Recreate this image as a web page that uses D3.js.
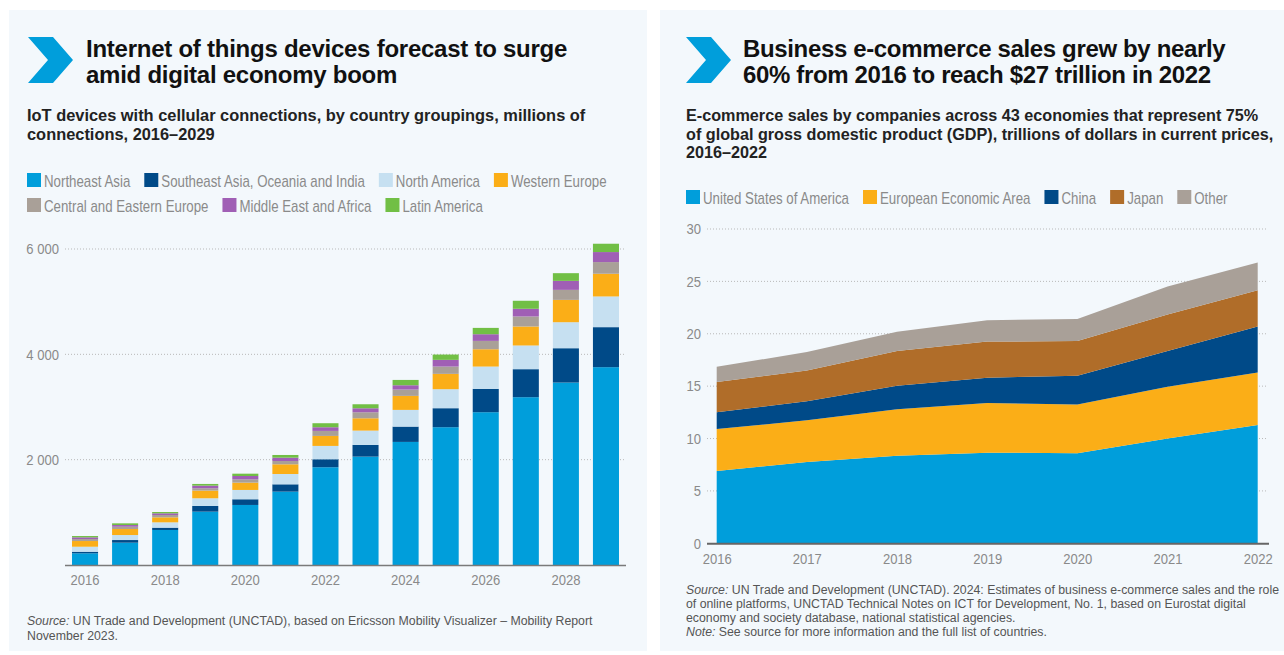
<!DOCTYPE html>
<html><head><meta charset="utf-8">
<script src="https://cdn.jsdelivr.net/npm/d3@7"></script>
<style>body{margin:0;background:#fff} svg{display:block}</style>
</head><body>
<svg id="c" width="1284" height="655"></svg>
<script>
// ---------- Data: IoT devices (millions of connections) ----------
const iotYears = [2016,2017,2018,2019,2020,2021,2022,2023,2024,2025,2026,2027,2028,2029];
const iotSeries = ["Northeast Asia","Southeast Asia, Oceania and India","North America","Western Europe","Central and Eastern Europe","Middle East and Africa","Latin America"];
const northeastAsia   = [222,424,665,1013,1140,1393,1856,2058,2337,2616,2901,3186,3464,3756];
const southeastAsia   = [30,50,44,108,108,139,152,222,291,361,443,532,652,760];
const northAmerica    = [95,95,101,146,177,196,253,272,317,361,424,450,494,583];
const westernEurope   = [108,114,95,146,139,184,190,234,266,291,329,361,424,431];
const centralEastEur  = [38,44,44,44,63,63,95,114,120,139,158,190,190,222];
const middleEastAfr   = [32,32,32,50,63,63,70,76,82,127,127,146,171,190];
const latinAmerica    = [25,32,25,32,44,51,76,76,101,101,120,152,146,158];
const iotYTicks = [2000,4000,6000];
const iotXTicks = [2016,2018,2020,2022,2024,2026,2028];

// ---------- Data: business e-commerce sales (trillions USD) ----------
const ecYears = [2016,2017,2018,2019,2020,2021,2022];
const ecSeries = ["United States of America","European Economic Area","China","Japan","Other"];
const usa   = [6.9,7.75,8.35,8.65,8.6,10.0,11.3];
const eea   = [4.0,4.0,4.45,4.75,4.65,4.95,5.0];
const china = [1.6,1.8,2.25,2.4,2.75,3.4,4.4];
const japan = [2.9,2.95,3.3,3.45,3.3,3.5,3.45];
const other = [1.45,1.75,1.85,2.05,2.1,2.65,2.65];
const ecYTicks = [0,5,10,15,20,25,30];

// ---------- Styles ----------
const C = {
  blue:"#009edb", navy:"#004a88", light:"#c6e0f1", orange:"#fbae17",
  taupe:"#a9a098", purple:"#a05fb5", green:"#71bf45", brown:"#b06d29",
  panel:"#f3f8fc", grey:"#8a8a8a", grid:"#b9b9b9"
};
const iotColors = [C.blue,C.navy,C.light,C.orange,C.taupe,C.purple,C.green];
const ecColors  = [C.blue,C.orange,C.navy,C.brown,C.taupe];
const SANS = "'Liberation Sans', Arial, Helvetica, sans-serif";
const LEG_SX = 0.83, TICK_SX = 0.87;

const svg = d3.select("#c");

// panels
svg.append("rect").attr("x",9).attr("y",10).attr("width",638).attr("height",641).attr("fill",C.panel);
svg.append("rect").attr("x",660).attr("y",10).attr("width",624).attr("height",641).attr("fill",C.panel);

function chevron(x0){
  const p = [[0,0],[25,0],[45,23],[25,46],[0,46],[20,23]].map(([a,b])=>[x0+a,37+b]);
  svg.append("path").attr("d", d3.line()(p)+"Z").attr("fill",C.blue);
}
function lines(x, y0, dy, arr, attrs){
  const t = svg.append("text").attr("x",x).attr("y",y0);
  Object.entries(attrs).forEach(([k,v])=>t.attr(k,v));
  arr.forEach((s,i)=>t.append("tspan").attr("x",x).attr("y",y0+i*dy).text(s));
  return t;
}
function legend(x0, y0, names, colors){
  let x = x0;
  names.forEach((n,i)=>{
    svg.append("rect").attr("x",x).attr("y",y0-14).attr("width",14).attr("height",14).attr("fill",colors[i]);
    const t = svg.append("text").attr("transform",`translate(${x+17},${y0}) scale(${LEG_SX},1)`)
      .attr("font-family",SANS).attr("font-size",16).attr("fill",C.grey).text(n);
    x = x + 17 + t.node().getComputedTextLength()*LEG_SX + 14;
  });
}
function styleAxis(a){
  a.select(".domain").remove();
  a.selectAll("text").attr("font-family",SANS).attr("font-size",15).attr("fill",C.grey)
    .attr("transform",`scale(${TICK_SX},1)`);
}

// ---------- Left panel ----------
chevron(28);
lines(86,57,26,["Internet of things devices forecast to surge","amid digital economy boom"],
  {"font-family":SANS,"font-weight":"bold","font-size":24,"letter-spacing":"-0.25px","fill":"#111"});
lines(27,121,18.5,["IoT devices with cellular connections, by country groupings, millions of","connections, 2016\u20132029"],
  {"font-family":SANS,"font-weight":"bold","font-size":16.4,"fill":"#222"});
legend(27,187,iotSeries.slice(0,4),iotColors.slice(0,4));
legend(27,212,iotSeries.slice(4),iotColors.slice(4));

const xb = d3.scaleBand().domain(iotYears).range([65,626]).paddingInner(0.35).paddingOuter(0.175);
const yl = d3.scaleLinear().domain([0,6000]).range([565,249]);

svg.append("g").selectAll("line").data(iotYTicks).join("line")
  .attr("x1",65).attr("x2",626).attr("y1",d=>yl(d)).attr("y2",d=>yl(d))
  .attr("stroke",C.grid).attr("stroke-width",1).attr("stroke-dasharray","1,2");

const iotRows = iotYears.map((yr,i)=>({year:yr,
  s0:northeastAsia[i], s1:southeastAsia[i], s2:northAmerica[i], s3:westernEurope[i],
  s4:centralEastEur[i], s5:middleEastAfr[i], s6:latinAmerica[i]}));
const iotStack = d3.stack().keys(["s0","s1","s2","s3","s4","s5","s6"])(iotRows);
svg.append("g").selectAll("g").data(iotStack).join("g").attr("fill",(d,i)=>iotColors[i])
  .selectAll("rect").data(d=>d).join("rect")
  .attr("x",d=>xb(d.data.year)).attr("width",xb.bandwidth())
  .attr("y",d=>yl(d[1])).attr("height",d=>yl(d[0])-yl(d[1]));

svg.append("line").attr("x1",65).attr("x2",626).attr("y1",565.5).attr("y2",565.5).attr("stroke","#7a7a7a").attr("stroke-width",1.5);

const axL = svg.append("g").attr("transform","translate(59,0)")
  .call(d3.axisLeft(yl).tickValues(iotYTicks).tickSize(0).tickPadding(0)
    .tickFormat(d=>d3.format(",")(d).replace(","," ")));
const axB = svg.append("g").attr("transform","translate(0,565)")
  .call(d3.axisBottom(xb).tickValues(iotXTicks).tickSize(0).tickPadding(9.5));
styleAxis(axL); styleAxis(axB);

const sL = svg.append("text").attr("font-family",SANS).attr("font-size",12.3).attr("fill","#555");
const l1 = sL.append("tspan").attr("x",27).attr("y",625);
l1.append("tspan").attr("font-style","italic").text("Source:");
l1.append("tspan").text(" UN Trade and Development (UNCTAD), based on Ericsson Mobility Visualizer \u2013 Mobility Report");
sL.append("tspan").attr("x",27).attr("y",640).text("November 2023.");

// ---------- Right panel ----------
chevron(686);
lines(743,57,26,["Business e-commerce sales grew by nearly","60% from 2016 to reach $27 trillion in 2022"],
  {"font-family":SANS,"font-weight":"bold","font-size":24,"letter-spacing":"-0.35px","fill":"#111"});
lines(686,121,18.5,["E-commerce sales by companies across 43 economies that represent 75%","of global gross domestic product (GDP), trillions of dollars in current prices,","2016\u20132022"],
  {"font-family":SANS,"font-weight":"bold","font-size":16.2,"fill":"#222"});
legend(686,204,ecSeries,ecColors);

const xr = d3.scaleLinear().domain([2016,2022]).range([716.7,1257.7]);
const yr = d3.scaleLinear().domain([0,30]).range([543.3,229]);

svg.append("g").selectAll("line").data(ecYTicks.slice(1)).join("line")
  .attr("x1",707).attr("x2",1267).attr("y1",d=>yr(d)).attr("y2",d=>yr(d))
  .attr("stroke",C.grid).attr("stroke-width",1).attr("stroke-dasharray","1,2");

const ecRows = ecYears.map((yy,i)=>({year:yy,a:usa[i],b:eea[i],c:china[i],d:japan[i],e:other[i]}));
const ecStack = d3.stack().keys(["a","b","c","d","e"])(ecRows);
const area = d3.area().x(d=>xr(d.data.year)).y0(d=>yr(d[0])).y1(d=>yr(d[1]));
svg.append("g").selectAll("path").data(ecStack).join("path")
  .attr("d",area).attr("fill",(d,i)=>ecColors[i]);

svg.append("line").attr("x1",707).attr("x2",1269).attr("y1",543.8).attr("y2",543.8).attr("stroke","#666").attr("stroke-width",2);

const axR = svg.append("g").attr("transform","translate(701,0)")
  .call(d3.axisLeft(yr).tickValues(ecYTicks).tickSize(0).tickPadding(0));
const axRB = svg.append("g").attr("transform","translate(0,543.3)")
  .call(d3.axisBottom(xr).tickValues(ecYears).tickSize(0).tickPadding(10).tickFormat(d3.format("d")));
styleAxis(axR); styleAxis(axRB);

const srcR = svg.append("text").attr("font-family",SANS).attr("font-size",12.3).attr("fill","#555");
const r1 = srcR.append("tspan").attr("x",686).attr("y",594);
r1.append("tspan").attr("font-style","italic").text("Source:");
r1.append("tspan").text(" UN Trade and Development (UNCTAD). 2024: Estimates of business e-commerce sales and the role");
srcR.append("tspan").attr("x",686).attr("y",608).text("of online platforms, UNCTAD Technical Notes on ICT for Development, No. 1, based on Eurostat digital");
srcR.append("tspan").attr("x",686).attr("y",622).text("economy and society database, national statistical agencies.");
const r4 = srcR.append("tspan").attr("x",686).attr("y",636);
r4.append("tspan").attr("font-style","italic").text("Note:");
r4.append("tspan").text(" See source for more information and the full list of countries.");
</script>
</body></html>
